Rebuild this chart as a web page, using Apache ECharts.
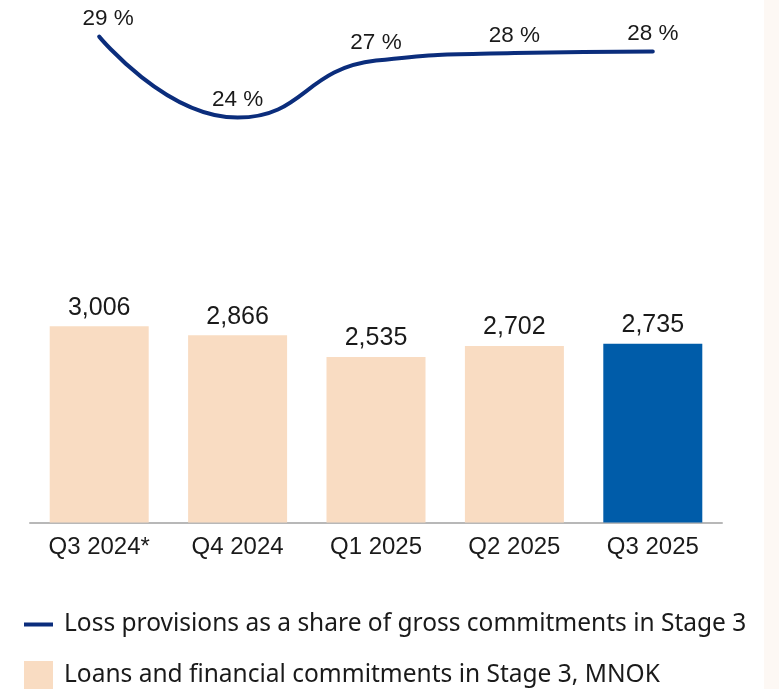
<!DOCTYPE html>
<html>
<head>
<meta charset="utf-8">
<script src="https://cdn.jsdelivr.net/npm/echarts@6/dist/echarts.min.js"></script>
<style>
html,body{margin:0;padding:0;background:#fff;}
#chart{width:779px;height:689px;}
</style>
</head>
<body>
<div id="chart"></div>
<script>
const categories = ['Q3 2024*', 'Q4 2024', 'Q1 2025', 'Q2 2025', 'Q3 2025'];
const stage3Loans = [3006, 2866, 2535, 2702, 2735];
const provisionShare = [29.0, 23.6, 27.4, 27.9, 28.0];
const barName = 'Loans and financial commitments in Stage 3, MNOK';
const lineName = 'Loss provisions as a share of gross commitments in Stage 3';

const chart = echarts.init(document.getElementById('chart'));
const labelFont = '"Liberation Sans", Arial, sans-serif';
const legendFont = '"Noto Sans", sans-serif';

chart.setOption({
  animation: false,
  backgroundColor: '#ffffff',
  graphic: [{
    type: 'rect',
    shape: {x: 764, y: 0, width: 15, height: 689},
    style: {fill: '#fdf8f4'},
    z: -10
  }],
  grid: {left: 30, right: 57, top: 0, bottom: 166.5},
  legend: [{
    data: [{name: lineName, icon: 'rect'}],
    left: 24, top: 612, padding: 0,
    itemWidth: 29, itemHeight: 4,
    textStyle: {fontFamily: legendFont, fontSize: 24.5, color: '#1a1a1a', padding: [0, 0, 0, 6]}
  }, {
    data: [{name: barName, icon: 'rect'}],
    left: 24, top: 661, padding: 0,
    itemWidth: 29, itemHeight: 29,
    textStyle: {fontFamily: legendFont, fontSize: 24.5, color: '#1a1a1a', padding: [0, 0, 0, 6]}
  }],
  xAxis: {
    type: 'category',
    data: categories,
    axisLine: {lineStyle: {color: '#b8b8b8', width: 2}},
    axisTick: {show: false},
    axisLabel: {fontFamily: labelFont, fontSize: 24, color: '#1a1a1a', margin: 13}
  },
  yAxis: [{
    type: 'value', min: 0, max: 8000, show: false, splitLine: {show: false}
  }, {
    type: 'value', min: -3.39, max: 31.44, show: false, splitLine: {show: false}
  }],
  series: [{
    name: barName,
    type: 'bar',
    data: stage3Loans.map((v, i) => ({
      value: v,
      itemStyle: {color: i === stage3Loans.length - 1 ? '#005ca9' : '#f9dcc2'}
    })),
    itemStyle: {color: '#f9dcc2'},
    barWidth: 99,
    label: {
      show: true, position: 'top', distance: 6,
      fontFamily: labelFont, fontSize: 25, color: '#1a1a1a',
      formatter: p => p.value.toLocaleString('en-US')
    }
  }, {
    name: lineName,
    type: 'line',
    yAxisIndex: 1,
    data: provisionShare.map((v, i) => i === 0 ? {value: v, label: {offset: [9, 0]}} : v),
    smooth: 0.5,
    showSymbol: true,
    symbol: 'circle',
    symbolSize: 0,
    lineStyle: {color: '#0b2d7c', width: 4, cap: 'round'},
    itemStyle: {color: '#0b2d7c'},
    label: {
      show: true, position: 'top', distance: 6,
      fontFamily: labelFont, fontSize: 22.5, color: '#1a1a1a',
      formatter: p => Math.round(p.value) + ' %'
    }
  }]
});
</script>
</body>
</html>
